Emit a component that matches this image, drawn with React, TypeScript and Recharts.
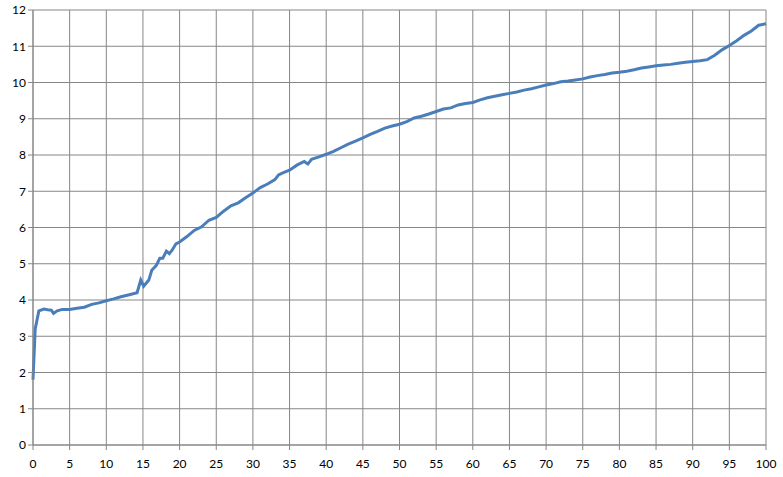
import { CartesianGrid, Line, LineChart, XAxis, YAxis } from "recharts"

const xs = [
  0, 0.3, 0.8, 1.5, 2, 2.5, 2.8, 3.3, 4, 5, 6, 7, 8, 9, 10, 11, 12, 13, 14.2, 14.7, 15.1, 15.8, 16.2, 16.8,
  17.3, 17.7, 18.2, 18.6, 19, 19.5, 20, 21, 22, 23, 24, 25, 26, 27, 28, 29, 30, 31, 32, 33, 33.5, 34, 35, 36,
  37, 37.5, 38, 39, 40, 41, 42, 43, 44, 45, 46, 47, 48, 49, 50, 51, 52, 53, 54, 55, 56, 57, 58, 59, 60, 61,
  62, 63, 64, 65, 66, 67, 68, 69, 70, 71, 72, 73, 74, 75, 76, 77, 78, 79, 80, 81, 82, 83, 84, 85, 86, 87, 88,
  89, 90, 91, 92, 93, 94, 95, 96, 97, 98, 99, 100,
]

const values = [
  1.8, 3.2, 3.7, 3.75, 3.73, 3.72, 3.63, 3.7, 3.74, 3.74, 3.77, 3.8, 3.88, 3.92, 3.98, 4.03, 4.09, 4.14, 4.2,
  4.55, 4.38, 4.55, 4.82, 4.95, 5.15, 5.15, 5.35, 5.28, 5.38, 5.55, 5.6, 5.75, 5.92, 6.02, 6.2, 6.28, 6.45,
  6.6, 6.68, 6.82, 6.95, 7.1, 7.2, 7.32, 7.45, 7.5, 7.58, 7.72, 7.82, 7.75, 7.88, 7.95, 8.02, 8.1, 8.2, 8.3,
  8.38, 8.47, 8.57, 8.65, 8.74, 8.8, 8.85, 8.92, 9.02, 9.07, 9.13, 9.2, 9.27, 9.3, 9.38, 9.42, 9.45, 9.52,
  9.58, 9.62, 9.66, 9.7, 9.74, 9.79, 9.83, 9.88, 9.93, 9.97, 10.02, 10.04, 10.07, 10.1, 10.15, 10.19, 10.22,
  10.26, 10.28, 10.31, 10.35, 10.4, 10.43, 10.46, 10.48, 10.5, 10.53, 10.56, 10.58, 10.6, 10.63, 10.75, 10.9,
  11.02, 11.15, 11.3, 11.42, 11.58, 11.62,
]

const xTicks = [0, 5, 10, 15, 20, 25, 30, 35, 40, 45, 50, 55, 60, 65, 70, 75, 80, 85, 90, 95, 100]
const yTicks = [0, 1, 2, 3, 4, 5, 6, 7, 8, 9, 10, 11, 12]

const data = xs.map((x, i) => ({ x, y: values[i] }))

const gridColor = "#868686"
const tickStyle = { fill: "#000", fontSize: 12, fontFamily: "Lato, 'Open Sans', sans-serif" }

export default function App() {
  return (
    <div style={{ position: "absolute", left: 0, top: 0, background: "#fff" }}>
      <LineChart width={783} height={477} data={data} margin={{ top: 10, right: 17, bottom: 0, left: 0 }}>
        <CartesianGrid stroke={gridColor} strokeWidth={1} />
        <XAxis
          dataKey="x"
          type="number"
          domain={[0, 100]}
          ticks={xTicks}
          interval={0}
          stroke={gridColor}
          tick={tickStyle}
          tickSize={5}
          tickMargin={9}
          height={32}
        />
        <YAxis
          type="number"
          domain={[0, 12]}
          ticks={yTicks}
          interval={0}
          stroke={gridColor}
          tick={tickStyle}
          tickSize={5}
          width={33}
        />
        <Line
          type="linear"
          dataKey="y"
          stroke="#4a7ebb"
          strokeWidth={3}
          dot={false}
          isAnimationActive={false}
        />
      </LineChart>
    </div>
  )
}
